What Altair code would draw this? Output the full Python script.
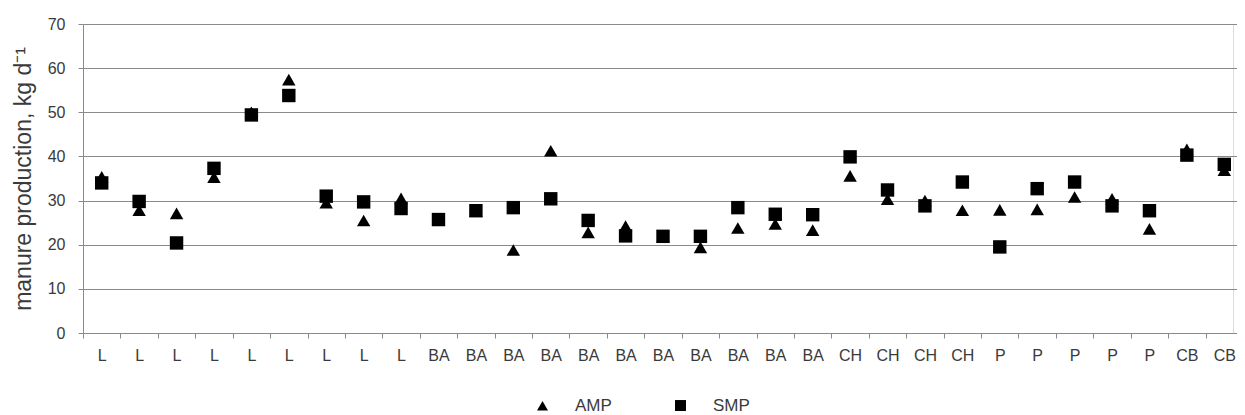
import altair as alt
import pandas as pd

categories = ["L"] * 9 + ["BA"] * 11 + ["CH"] * 4 + ["P"] * 5 + ["CB"] * 2
amp = [35.4, 27.8, 27.1, 35.3, 50.0, 57.4, 29.5, 25.5, 30.5,
       25.6, 27.6, 18.8, 41.3, 22.8, 24.2, 21.9, 19.4, 23.8, 24.7, 23.3,
       35.6, 30.3, 30.0, 27.8,
       27.9, 28.0, 30.8, 30.4, 23.6,
       41.6, 36.9]
smp = [34.0, 29.8, 20.4, 37.3, 49.4, 53.8, 31.0, 29.7, 28.2,
       25.7, 27.7, 28.4, 30.4, 25.5, 22.0, 21.9, 21.9, 28.4, 26.9, 26.8,
       39.9, 32.4, 28.8, 34.2,
       19.5, 32.7, 34.2, 28.8, 27.7,
       40.3, 38.2]
series_names = ["AMP", "SMP"]
y_ticks = [0, 10, 20, 30, 40, 50, 60, 70]

rows = []
for name, vals in zip(series_names, [amp, smp]):
    for i, (c, v) in enumerate(zip(categories, vals)):
        rows.append({"idx": i, "cat": c, "series": name, "value": v})
df = pd.DataFrame(rows)

labels_js = "[" + ",".join("'%s'" % c for c in categories) + "]"
FONT = "Liberation Sans"
GRAY = "#8a8a8a"
TEXT = "#3a3a3a"

chart = alt.Chart(df).mark_point(filled=True, color="black", opacity=1, size=180).encode(
    x=alt.X("idx:O",
            scale=alt.Scale(type="band", range=[0, 1160], paddingInner=0, paddingOuter=0),
            axis=alt.Axis(title=None, labelExpr=labels_js + "[datum.value]", labelAngle=0,
                          tickBand="extent", grid=False, domainColor=GRAY, tickColor=GRAY,
                          tickSize=5, labelPadding=9, labelFontSize=16, labelColor=TEXT,
                          labelFont=FONT)),
    y=alt.Y("value:Q",
            scale=alt.Scale(domain=[0, 70], nice=False),
            axis=alt.Axis(values=y_ticks, title="manure production, kg d\u207b\u00b9",
                          grid=True, gridColor=GRAY, gridWidth=1, domainColor=GRAY,
                          tickColor=GRAY, tickSize=5, labelPadding=13, labelFontSize=16,
                          labelColor=TEXT, labelFont=FONT, titleFont=FONT,
                          titleFontSize=23, titleFontWeight="normal", titleColor=TEXT,
                          titlePadding=12)),
    shape=alt.Shape("series:N",
                    scale=alt.Scale(domain=series_names, range=["triangle-up", "square"]),
                    legend=alt.Legend(title=None, orient="none", direction="horizontal",
                                      legendX=451, legendY=373, symbolSize=120,
                                      symbolFillColor="black", symbolStrokeColor="black",
                                      labelFontSize=17, labelFont=FONT, labelColor=TEXT,
                                      columnPadding=60, labelOffset=24)),
).properties(
    width=1150, height=309,
    autosize=alt.AutoSizeParams(type="none"),
    padding={"left": 75, "top": 16, "right": 4, "bottom": 90},
).configure_view(stroke=None).configure(background="white")

chart.save("out.html", embed_options={"renderer": "svg", "actions": False})
